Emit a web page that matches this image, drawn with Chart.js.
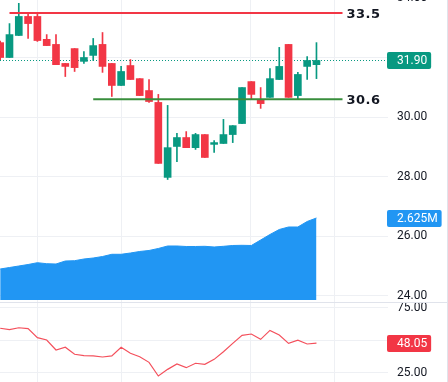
<!DOCTYPE html>
<html>
<head>
<meta charset="utf-8">
<script src="https://cdn.jsdelivr.net/npm/chart.js@4.4.1/dist/chart.umd.min.js"></script>
<style>
    html, body { margin: 0; padding: 0; background: #fff; }
    body { width: 448px; height: 382px; position: relative; overflow: hidden; }
    #mainWrap { position: absolute; left: 0; top: -20px; }
    #rsiWrap { position: absolute; left: 0; top: 303px; }
    #sep { position: absolute; left: 0; top: 302px; width: 447px; height: 1px; background: #e0e3eb; }
    #edge { position: absolute; left: 447px; top: 0; width: 1px; height: 382px; background: #e0e3eb; }
</style>
</head>
<body>
<div id="mainWrap"><canvas id="priceChart" width="448" height="322"></canvas></div>
<div id="sep"></div>
<div id="rsiWrap"><canvas id="rsiChart" width="448" height="90"></canvas></div>
<div id="edge"></div>
<script>
// candele (prezzo)
const opens  = [32.50, 32.00, 32.74, 33.38, 33.38, 32.61, 32.44, 31.80, 32.30, 31.87, 32.07, 32.44, 31.80, 31.06, 31.73, 31.29, 30.89, 30.49, 27.97, 29.01, 29.31, 28.97, 29.41, 29.08, 29.11, 29.41, 29.78, 31.19, 30.59, 30.66, 31.26, 32.44, 30.72, 31.70, 31.76];
const closes = [32.00, 32.77, 33.38, 33.14, 32.57, 32.40, 31.76, 31.70, 31.66, 32.00, 32.40, 31.70, 31.06, 31.53, 31.26, 30.72, 30.52, 28.44, 28.97, 29.31, 28.97, 29.41, 28.64, 29.14, 29.41, 29.71, 30.99, 30.76, 30.45, 31.29, 31.70, 30.66, 31.43, 31.90, 31.90];
const highs  = [32.55, 33.14, 33.82, 33.48, 33.48, 32.77, 32.77, 31.80, 32.30, 32.20, 32.64, 32.84, 31.80, 31.70, 31.93, 31.29, 31.26, 30.76, 30.39, 29.45, 29.51, 29.45, 29.41, 29.21, 29.92, 29.71, 30.99, 31.19, 30.99, 31.63, 32.34, 32.44, 31.50, 32.03, 32.50];
const lows   = [31.93, 32.00, 32.74, 32.64, 32.54, 32.40, 31.76, 31.36, 31.53, 31.80, 31.90, 31.50, 30.69, 31.06, 31.26, 30.72, 30.49, 28.44, 27.90, 28.50, 28.97, 28.91, 28.64, 28.81, 29.11, 29.14, 29.78, 30.59, 30.29, 30.66, 31.26, 30.66, 30.62, 31.26, 31.29];

// volume (milioni) e RSI
const volumes = [0.992, 1.040, 1.088, 1.136, 1.194, 1.162, 1.152, 1.248, 1.258, 1.312, 1.344, 1.392, 1.463, 1.463, 1.504, 1.553, 1.585, 1.649, 1.729, 1.729, 1.713, 1.713, 1.719, 1.697, 1.719, 1.745, 1.751, 1.745, 1.921, 2.097, 2.257, 2.337, 2.337, 2.513, 2.625];
const rsiValues = [59.4, 58.3, 59.8, 59.1, 52.2, 50.4, 42.7, 44.8, 39.4, 38.3, 38.1, 37.3, 38.1, 44.8, 40.2, 37.5, 33.2, 22.7, 27.8, 31.9, 29.1, 32.5, 31.7, 35.5, 41.4, 47.8, 54.0, 55.0, 50.9, 57.8, 54.2, 47.8, 50.2, 47.3, 48.05];

// livelli orizzontali
const levels = [33.5, 30.6];
const levelStarts = [1, 10];
const levelEnd = 36.8;

// tick degli assi
const priceTicks = [24, 26, 28, 30, 32, 34];
const priceLabels = [24, 26, 28, 30, 32, 34];
const rsiTicks = [25, 50, 75];
const rsiLabels = [25, 75]; // 50 resta coperto dall'etichetta RSI
const dateGrid = [4, 13.05, 26.95, 35.9];

const GREEN = "#089981";
const RED = "#F23645";
const BLUE = "#2196F3";
const LEVEL_GREEN = "#388E3C";
const GRID = "#eef0f4";
const TEXT = "#131722";
const X_MIN = -0.02, X_MAX = 41.69;

const idx = opens.map((_, i) => i);
const candleColors = opens.map((o, i) => closes[i] >= o ? GREEN : RED);

function timeAxis() {
    return {
        type: "linear", min: X_MIN, max: X_MAX, offset: false,
        afterBuildTicks: s => { s.ticks = dateGrid.map(v => ({ value: v })); },
        afterFit: s => { s.height = 0; s.paddingLeft = 0; s.paddingRight = 0; },
        ticks: { display: false },
        grid: { color: GRID, drawTicks: false, offset: false },
        border: { display: false }
    };
}

function valueAxis(min, max, ticks, labels) {
    return {
        type: "linear", position: "right", min: min, max: max,
        afterBuildTicks: s => { s.ticks = ticks.map(v => ({ value: v })); },
        afterFit: s => { s.width = 60; s.paddingTop = 0; s.paddingBottom = 0; },
        ticks: {
            padding: 9, color: TEXT, font: { family: "Roboto", size: 12 },
            callback: v => labels.includes(v) ? v.toFixed(2) : ""
        },
        grid: { color: GRID, drawTicks: false },
        border: { display: false }
    };
}

// etichetta colorata sull'asse dei prezzi
function drawTag(chart, axisId, value, text, color) {
    const ctx = chart.ctx;
    const y = Math.round(chart.scales[axisId].getPixelForValue(value));
    const x = chart.chartArea.right - 1;
    ctx.save();
    ctx.font = "12px Roboto";
    const w = ctx.measureText(text).width + 14;
    ctx.fillStyle = color;
    ctx.beginPath();
    ctx.roundRect(x, y - 8, w, 17, 2);
    ctx.fill();
    ctx.fillStyle = "#fff";
    ctx.textBaseline = "middle";
    ctx.fillText(text, x + 10, y + 1);
    ctx.restore();
}

const lastClose = closes[closes.length - 1];
const lastVol = volumes[volumes.length - 1];
const lastRsi = rsiValues[rsiValues.length - 1];

const priceOverlay = {
    id: "priceOverlay",
    beforeDatasetsDraw(chart) {
        const ctx = chart.ctx;
        const y = Math.round(chart.scales.y.getPixelForValue(lastClose)) + 0.5;
        ctx.save();
        ctx.strokeStyle = GREEN;
        ctx.lineWidth = 1;
        ctx.setLineDash([1, 2]);
        ctx.beginPath();
        ctx.moveTo(chart.chartArea.left, y);
        ctx.lineTo(chart.chartArea.right, y);
        ctx.stroke();
        ctx.restore();
    },
    afterDatasetsDraw(chart) {
        const ctx = chart.ctx;
        ctx.save();
        ctx.font = "bold 13px 'DejaVu Sans'";
        ctx.fillStyle = TEXT;
        ctx.textBaseline = "middle";
        if ("letterSpacing" in ctx) ctx.letterSpacing = "0.5px";
        levels.forEach(lv => {
            const x = chart.scales.x.getPixelForValue(levelEnd) + 4;
            const y = chart.scales.y.getPixelForValue(lv) + 1.5;
            ctx.fillText(String(lv), x, y);
        });
        ctx.restore();
    },
    afterDraw(chart) {
        drawTag(chart, "y", lastClose, lastClose.toFixed(2), GREEN);
        drawTag(chart, "yVol", lastVol, lastVol.toFixed(3) + "M", BLUE);
    }
};

new Chart(document.getElementById("priceChart"), {
    type: "bar",
    data: {
        datasets: [
            ...levels.map((lv, k) => ({
                type: "line",
                data: [{ x: levelStarts[k], y: lv }, { x: levelEnd, y: lv }],
                borderColor: k === 0 ? RED : LEVEL_GREEN,
                borderWidth: 2,
                pointRadius: 0,
                yAxisID: "y",
                order: 0
            })),
            {
                data: idx.map(i => ({ x: i, y: [opens[i], closes[i]] })),
                backgroundColor: candleColors,
                barThickness: 7,
                grouped: false,
                yAxisID: "y",
                order: 1
            },
            {
                data: idx.map(i => ({ x: i, y: [lows[i], highs[i]] })),
                backgroundColor: candleColors,
                barThickness: 1,
                grouped: false,
                yAxisID: "y",
                order: 2
            },
            {
                type: "line",
                data: idx.map(i => ({ x: i, y: volumes[i] })),
                yAxisID: "yVol",
                fill: "origin",
                backgroundColor: BLUE,
                borderColor: BLUE,
                borderWidth: 1,
                pointRadius: 0,
                tension: 0,
                order: 3
            }
        ]
    },
    options: {
        responsive: false,
        devicePixelRatio: 1,
        animation: false,
        layout: { padding: 0 },
        plugins: { legend: { display: false }, tooltip: { enabled: false } },
        events: [],
        scales: {
            x: timeAxis(),
            y: valueAxis(23.782, 34.605, priceTicks, priceLabels),
            yVol: { type: "linear", display: false, min: -0.064, max: 10.243 }
        }
    },
    plugins: [priceOverlay]
});

new Chart(document.getElementById("rsiChart"), {
    type: "line",
    data: {
        datasets: [{
            data: idx.map(i => ({ x: i, y: rsiValues[i] })),
            borderColor: "#F4505C",
            borderWidth: 1.2,
            pointRadius: 0,
            tension: 0
        }]
    },
    options: {
        responsive: false,
        devicePixelRatio: 1,
        animation: false,
        layout: { padding: 0 },
        plugins: { legend: { display: false }, tooltip: { enabled: false } },
        events: [],
        scales: {
            x: timeAxis(),
            y: valueAxis(9.615, 78.846, rsiTicks, rsiLabels)
        }
    },
    plugins: [{
        id: "rsiTag",
        afterDraw(chart) { drawTag(chart, "y", lastRsi, lastRsi.toFixed(2), RED); }
    }]
});
</script>
</body>
</html>
